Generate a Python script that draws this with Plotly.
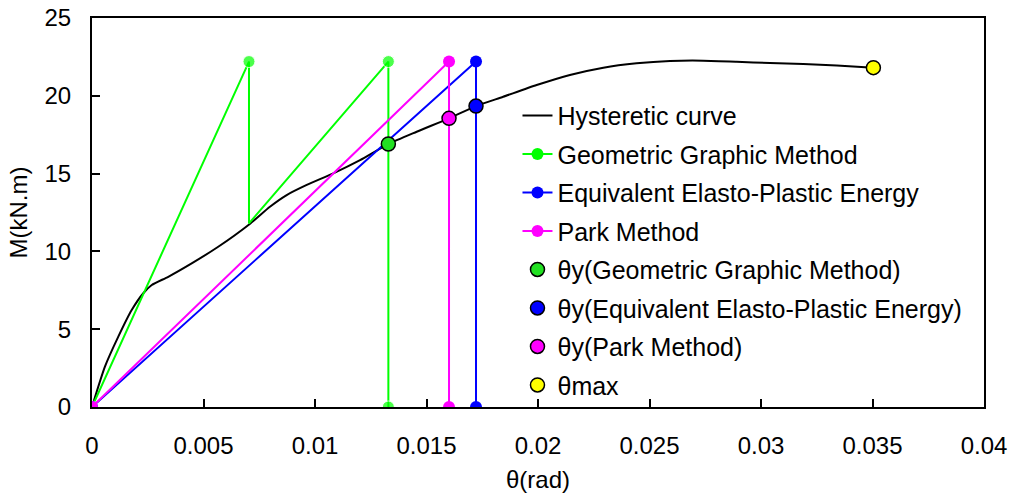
import plotly.graph_objects as go

# Hysteretic (skeleton) curve
curve_theta = [0, 0.00058, 0.00118, 0.00178, 0.0023, 0.00268, 0.00342, 0.00447, 0.00566,
               0.00706, 0.00798, 0.00873, 0.00963, 0.01082, 0.01202, 0.01329, 0.01456,
               0.01601, 0.01722, 0.01844, 0.01994, 0.02143, 0.02293, 0.02442, 0.02592,
               0.02741, 0.02891, 0.0304, 0.0319, 0.0334, 0.03504]
curve_M = [0, 2.59, 4.52, 6.23, 7.31, 7.84, 8.37, 9.23, 10.3,
           11.75, 12.87, 13.62, 14.27, 15.02, 15.87, 16.9, 17.69,
           18.55, 19.34, 19.94, 20.69, 21.34, 21.81, 22.09, 22.24,
           22.26, 22.19, 22.1, 22.04, 21.94, 21.81]

# Geometric graphic method construction
geo_theta = [0, 0.00704, 0.00704, 0.01329, 0.01329]
geo_M = [0, 22.2, 11.8, 22.2, 0]
geo_marker_shown = [1, 1, 0, 1, 1]

# Equivalent elasto-plastic energy construction
eq_theta = [0, 0.01722, 0.01722]
eq_M = [0, 22.2, 0]

# Park method construction
park_theta = [0, 0.01601, 0.01601]
park_M = [0, 22.2, 0]

# Yield / max points
yield_geo = (0.01329, 16.9)
yield_eq = (0.01722, 19.34)
yield_park = (0.01601, 18.55)
theta_max = (0.03504, 21.81)

x_ticks = [0, 0.005, 0.01, 0.015, 0.02, 0.025, 0.03, 0.035, 0.04]
x_tick_labels = ["0", "0.005", "0.01", "0.015", "0.02", "0.025", "0.03", "0.035", "0.04"]
y_ticks = [0, 5, 10, 15, 20, 25]

GREEN = "#00FF00"
BLUE = "#0000FF"
MAGENTA = "#FF00FF"
FONT = "Liberation Sans, Arial, sans-serif"

fig = go.Figure()

fig.add_trace(go.Scatter(x=curve_theta, y=curve_M, mode="lines", name="Hysteretic curve",
                         line=dict(color="black", width=2, shape="spline", smoothing=0.6),
                         legendgroup="a"))

# geometric: drawn markers only at selected points
fig.add_trace(go.Scatter(x=geo_theta, y=geo_M, mode="lines+markers", showlegend=False,
                         line=dict(color=GREEN, width=2),
                         marker=dict(color=GREEN, size=[12 * s for s in geo_marker_shown]),
                         legendgroup="b"))
fig.add_trace(go.Scatter(x=[None], y=[None], mode="lines+markers", name="Geometric Graphic Method",
                         line=dict(color=GREEN, width=2), marker=dict(color=GREEN, size=12),
                         legendgroup="b"))

fig.add_trace(go.Scatter(x=eq_theta, y=eq_M, mode="lines+markers", name="Equivalent Elasto-Plastic Energy",
                         line=dict(color=BLUE, width=2), marker=dict(color=BLUE, size=12),
                         legendgroup="c"))
fig.add_trace(go.Scatter(x=park_theta, y=park_M, mode="lines+markers", name="Park Method",
                         line=dict(color=MAGENTA, width=2), marker=dict(color=MAGENTA, size=12),
                         legendgroup="d"))

ol = dict(color="black", width=1.5)
fig.add_trace(go.Scatter(x=[yield_geo[0]], y=[yield_geo[1]], mode="markers",
                         name="θy(Geometric Graphic Method)",
                         marker=dict(color="#22E022", size=14, line=ol), legendgroup="e"))
fig.add_trace(go.Scatter(x=[yield_eq[0]], y=[yield_eq[1]], mode="markers",
                         name="θy(Equivalent Elasto-Plastic Energy)",
                         marker=dict(color=BLUE, size=14, line=ol), legendgroup="f"))
fig.add_trace(go.Scatter(x=[yield_park[0]], y=[yield_park[1]], mode="markers",
                         name="θy(Park Method)",
                         marker=dict(color=MAGENTA, size=14, line=ol), legendgroup="g"))
fig.add_trace(go.Scatter(x=[theta_max[0]], y=[theta_max[1]], mode="markers",
                         name="θmax",
                         marker=dict(color="#FFFF00", size=14, line=ol), legendgroup="h"))

axis_common = dict(showgrid=False, zeroline=False, showline=True, linecolor="black", linewidth=2,
                   mirror=True, ticks="inside", ticklen=8, tickwidth=2, tickcolor="black",
                   automargin=False,
                   tickfont=dict(family=FONT, size=24, color="black"))

fig.update_xaxes(range=[0, 0.04], tickvals=x_ticks, ticktext=x_tick_labels,
                 ticklabelstandoff=16,
                 title=dict(text="θ(rad)", font=dict(family=FONT, size=24, color="black"), standoff=14),
                 **axis_common)
fig.update_yaxes(range=[0, 25], tickvals=y_ticks, ticklabelstandoff=14,
                 title=dict(text="M(kN.m)", font=dict(family=FONT, size=24, color="black"), standoff=10),
                 **axis_common)

fig.update_layout(
    width=1013, height=493,
    margin=dict(l=92, r=29, t=18, b=86, autoexpand=False),
    plot_bgcolor="white", paper_bgcolor="white",
    font=dict(family=FONT, size=24, color="black"),
    legend=dict(x=0.477, y=0.808, xanchor="left", yanchor="top",
                bgcolor="rgba(0,0,0,0)", font=dict(family=FONT, size=25, color="black"),
                traceorder="grouped", tracegroupgap=3),
)

fig.write_html("out.html", config={"displayModeBar": False},
               post_script="document.body.style.margin='0px';document.body.style.overflow='hidden';")
